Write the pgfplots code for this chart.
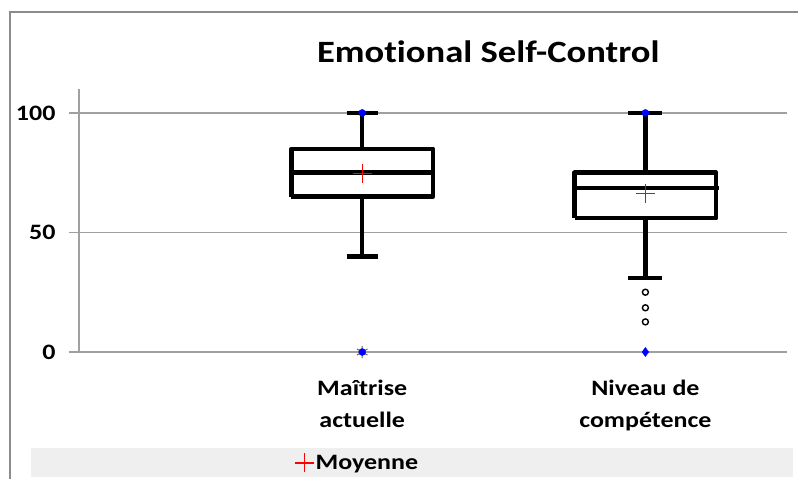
\documentclass[border=0pt]{standalone}
\usepackage{pgfplots}
\pgfplotsset{compat=1.18}
\usepackage{fontspec}
\setmainfont{Carlito}[FakeStretch=1.18, Ligatures={NoCommon, NoRequired, NoContextual}]
\definecolor{gridgray}{HTML}{A0A0A0}
\definecolor{framegray}{HTML}{8C8C8C}
\definecolor{legfill}{HTML}{EFEFEF}

\begin{document}
\begin{tikzpicture}
\begin{axis}[
  at={(79pt,-352pt)}, anchor=south west,
  scale only axis, width=708pt, height=263pt,
  xmin=0, xmax=2.5, ymin=0, ymax=110,
  clip=false,
  axis lines=left,
  axis line style={-, draw=gridgray, line width=1.5pt},
  ymajorgrids, grid style={gridgray, line width=1.5pt},
  ytick={0,50,100}, xtick={1,2},
  xticklabels={{Maîtrise\\actuelle},{Niveau de\\compétence}},
  xtick style={draw=none},
  ytick style={draw=gridgray, line width=1.5pt},
  tick align=outside, major tick length=10pt,
  /pgf/number format/assume math mode=true,
  y tick label style={font=\fontsize{22}{26}\selectfont\bfseries, xshift=-10pt},
  x tick label style={align=center, font=\fontsize{22}{32}\selectfont\bfseries, yshift=-15pt},
  title={Emotional Self-Control},
  title style={font=\fontsize{31}{36}\selectfont\bfseries, at={(0.578,1)}, anchor=base, yshift=21pt},
  legend style={at={(0.3,-0.376)}, anchor=north west, draw=none, fill=none,
    font=\fontsize{22}{26}\selectfont\bfseries},
  legend cell align=left,
  box/.style={black, line width=4.5pt, forget plot, line join=round},
]
% legend band
\fill[legfill] (axis description cs:-0.0678,-0.365) rectangle (axis description cs:1.0085,-0.475);
% Maitrise actuelle: whiskers 40/100, quartiles 65/85, median 75
\addplot[box] coordinates {(0.75,65) (1.25,65) (1.25,85) (0.75,85) (0.75,65)};
\addplot[box] coordinates {(0.75,75) (1.25,75)};
\addplot[box] coordinates {(1,85) (1,100)};
\addplot[box] coordinates {(1,65) (1,40)};
\addplot[box] coordinates {(0.945,100) (1.055,100)};
\addplot[box] coordinates {(0.945,40) (1.055,40)};
% Niveau de competence necessaire: whiskers 31/100, quartiles 56/75, median 68.5
\addplot[box] coordinates {(1.75,56) (2.25,56) (2.25,75) (1.75,75) (1.75,56)};
\addplot[box] coordinates {(1.75,68.5) (2.26,68.5)};
\addplot[box] coordinates {(2,75) (2,100)};
\addplot[box] coordinates {(2,56) (2,31)};
\addplot[box] coordinates {(1.94,100) (2.06,100)};
\addplot[box] coordinates {(1.94,31) (2.06,31)};
% outliers
\addplot[only marks, mark=asterisk, mark size=6pt, gridgray!60!black, line width=1pt, forget plot]
  coordinates {(1,0)};
\addplot[only marks, mark=o, mark size=3pt, black, line width=1.4pt, forget plot]
  coordinates {(2,25) (2,18.5) (2,12.6)};
% minimum / maximum
\addplot[only marks, mark=*, blue, mark size=3.5pt, forget plot]
  coordinates {(1,100) (1,0) (2,100)};
\addplot[only marks, mark=diamond*, blue, mark size=4.5pt, forget plot]
  coordinates {(2,0)};
% means
\addplot[only marks, red, mark=+, mark size=9.5pt, mark options={red, line width=1.2pt}, forget plot]
  coordinates {(2,66.2)};
\addplot[only marks, red, mark=+, mark size=9.5pt, mark options={red, line width=1.2pt}]
  coordinates {(1,74.5)};
\addlegendentry{Moyenne}
\end{axis}
% chart area frame (cut by the screenshot)
\draw[framegray, line width=1.5pt] (10pt,-495pt) -- (10pt,-12pt) -- (815pt,-12pt);
\pgfresetboundingbox
\useasboundingbox (0pt,0pt) rectangle (798pt,-479pt);
\end{tikzpicture}
\end{document}
